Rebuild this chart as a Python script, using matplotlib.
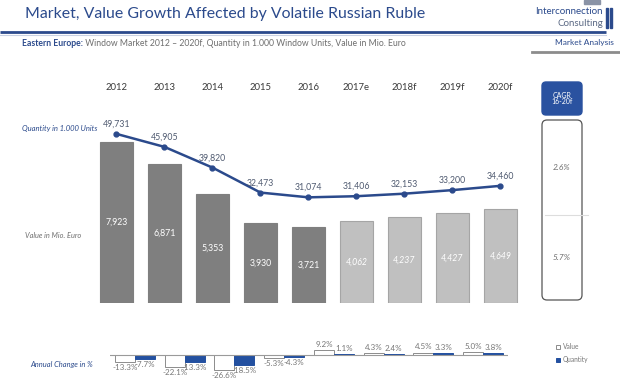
import matplotlib
matplotlib.use('Agg')
import matplotlib.pyplot as plt
from matplotlib.patches import FancyBboxPatch, Rectangle
import numpy as np

plt.rcParams['font.family'] = ['Lato', 'DejaVu Sans']

# data
years = ['2012', '2013', '2014', '2015', '2016', '2017e', '2018f', '2019f', '2020f']
value = [7923, 6871, 5353, 3930, 3721, 4062, 4237, 4427, 4649]
quantity = [49731, 45905, 39820, 32473, 31074, 31406, 32153, 33200, 34460]
n_actual = 5
value_change = [-13.3, -22.1, -26.6, -5.3, 9.2, 4.3, 4.5, 5.0]
qty_change = [-7.7, -13.3, -18.5, -4.3, 1.1, 2.4, 3.3, 3.8]
cagr_labels = ['2.6%', '5.7%']

blue = '#2b4a8c'
dark_grey = '#7f7f7f'
light_grey = '#c0c0c0'
text_grey = '#6e6e6e'

W, H = 620, 390
fig = plt.figure(figsize=(6.2, 3.9), dpi=100)
fig.patch.set_facecolor('white')

# background axes in pixel coords for decorations
bg = fig.add_axes([0, 0, 1, 1])
bg.set_xlim(0, W)
bg.set_ylim(H, 0)
bg.axis('off')


def fax(left, top, width, height):
    return fig.add_axes([left / W, 1 - (top + height) / H, width / W, height / H])


# header
bg.text(25, 14, 'Market, Value Growth Affected by Volatile Russian Ruble',
        fontsize=11.4, color=blue, va='center', ha='left')
bg.plot([0, 606], [32, 32], color=blue, lw=2, solid_capstyle='butt')
bg.plot([0, 606], [34.5, 34.5], color='#c9d1e3', lw=0.8)
t1 = bg.text(22, 44, 'Eastern Europe:', fontsize=6.2, color=blue,
             fontweight='bold', va='center')
bg.annotate(' Window Market 2012 \u2013 2020f, Quantity in 1.000 Window Units, Value in Mio. Euro',
            xy=(1, 0.5), xycoords=t1, va='center', fontsize=6.2, color=text_grey)
bg.text(614, 42, 'Market Analysis', fontsize=6, color=blue, ha='right', va='center')
bg.plot([532, 620], [52, 52], color='#8c8c8c', lw=2)

# logo
bg.text(603, 11, 'Interconnection', fontsize=7, color=blue, ha='right', va='center')
bg.text(603, 23, 'Consulting', fontsize=7, color='#5b6984', ha='right', va='center')
bg.add_patch(Rectangle((606, 8), 2, 20, color=blue))
bg.add_patch(Rectangle((610, 8), 2, 20, color=blue))
bg.add_patch(Rectangle((584, 0), 16, 4, color='#8a93a6'))

# main chart
ax = fax(92, 100, 432, 203)
ax.patch.set_visible(False)
x = np.arange(len(years))
colors = [dark_grey] * n_actual + [light_grey] * (len(years) - n_actual)
edges = [dark_grey] * n_actual + ['#a5a5a5'] * (len(years) - n_actual)
ax.bar(x, value, width=0.67, color=colors, edgecolor=edges, linewidth=0.8)
ax.set_ylim(0, 10000)
ax.set_xlim(-0.51, 8.49)
for i, v in enumerate(value):
    ax.text(i, v / 2, f'{v:,}', ha='center', va='center', color='white',
            fontsize=6.3, style='normal' if i < n_actual else 'italic')
ax.xaxis.tick_top()
ax.set_xticks(x)
ax.set_xticklabels(years, fontsize=6.8, color='#3a3a3a')
ax.tick_params(axis='x', length=0, pad=6)
ax.set_yticks([])
for s in ax.spines.values():
    s.set_visible(False)

ax2 = ax.twinx()
ax2.set_ylim(0, 59700)
ax2.plot(x, quantity, color=blue, lw=1.8, marker='o', ms=3.5)
for i, q in enumerate(quantity):
    ax2.annotate(f'{q:,}', (i, q), xytext=(0, 7), textcoords='offset points',
                 ha='center', va='center', fontsize=6.3, color='#4f5a70')
ax2.set_yticks([])
for s in ax2.spines.values():
    s.set_visible(False)

# side labels (drawn in figure so the chart axes do not cover them)
fig.text(22 / W, 1 - 129 / H, 'Quantity in 1.000 Units', fontsize=5.5,
         color=blue, style='italic', va='center')
fig.text(25 / W, 1 - 236 / H, 'Value in Mio. Euro', fontsize=5.3,
         color=text_grey, style='italic', va='center')
fig.text(30 / W, 1 - 364 / H, 'Annual Change in %', fontsize=5.4,
         color=blue, style='italic', va='center')

# annual change chart
ax3 = fax(110, 338.5, 398, 38.5)
xc = np.arange(len(value_change))
bv = ax3.bar(xc - 0.2, value_change, width=0.4, color='white',
             edgecolor='#8c8c8c', linewidth=0.7, label='Value')
bq = ax3.bar(xc + 0.2, qty_change, width=0.4, color='#2350a0',
             edgecolor='#2350a0', linewidth=0.7, label='Quantity')
ax3.axhline(0, color='#9a9a9a', lw=0.8)
ax3.set_xlim(-0.5, 7.5)
ax3.set_ylim(-40, 30)
ax3.axis('off')
for i, (a, b) in enumerate(zip(value_change, qty_change)):
    for off, v in ((-0.2, a), (0.2, b)):
        if v < 0:
            ax3.annotate(f'{v:.1f}%', (i + off, v), xytext=(0, -1.5),
                         textcoords='offset points', ha='center', va='top',
                         fontsize=5.8, color='#777777')
        else:
            ax3.annotate(f'{v:.1f}%', (i + off, v), xytext=(0, 1.5),
                         textcoords='offset points', ha='center', va='bottom',
                         fontsize=5.8, color='#777777')
fig.legend(handles=[bv, bq], loc='center left',
           bbox_to_anchor=(550 / W, 1 - 353 / H), frameon=False,
           fontsize=4.8, handlelength=0.6, handleheight=0.6,
           handletextpad=0.4, labelspacing=0.9, labelcolor='#777777')

# CAGR column
bg.add_patch(FancyBboxPatch((542, 82), 40, 33,
                            boxstyle='round,pad=0,rounding_size=4',
                            facecolor='#2a52a0', edgecolor='#2a52a0'))
bg.text(562, 98.5, 'CAGR\n16-20f', color='white', fontsize=5, ha='center',
        va='center', linespacing=0.9)
bg.add_patch(FancyBboxPatch((542, 120), 40, 180,
                            boxstyle='round,pad=0,rounding_size=5',
                            facecolor='none', edgecolor='#555555', lw=0.9))
bg.plot([545, 588], [215, 215], color='#dddddd', lw=0.8)
bg.text(562, 168, cagr_labels[0], fontsize=6, color=text_grey, style='italic',
        ha='center', va='center')
bg.text(562, 257, cagr_labels[1], fontsize=6, color=text_grey, style='italic',
        ha='center', va='center')

fig.savefig('out.png', dpi=100)
